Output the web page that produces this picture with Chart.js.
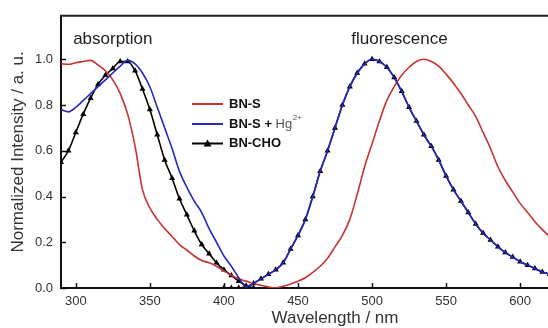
<!DOCTYPE html>
<html>
<head>
<meta charset="utf-8">
<script src="https://cdn.jsdelivr.net/npm/chart.js@4.4.1/dist/chart.umd.min.js"></script>
<style>
html, body { margin: 0; padding: 0; background: #fff; overflow: hidden; }
#grafico { display: block; }
</style>
</head>
<body>
<canvas id="grafico" width="620" height="336"></canvas>
<script>
// Absorption and fluorescence spectra (normalized)

const NM_ABS_BNS = [290, 295, 300, 305, 310, 315, 320, 325, 330, 335, 340, 345, 350, 355, 360,
    365, 370, 375, 380, 385, 390, 395, 400, 405, 410, 415, 420, 425, 430, 435];
const ABS_BNS = [0.98, 0.978, 0.985, 0.99, 0.995, 0.975, 0.95, 0.91, 0.85, 0.76, 0.62, 0.43, 0.35, 0.30, 0.26,
    0.225, 0.19, 0.165, 0.14, 0.12, 0.11, 0.095, 0.075, 0.055, 0.04, 0.03, 0.02, 0.012, 0.005, 0.0];

const NM_FL_BNS = [440, 445, 450, 455, 460, 465, 470, 475, 480, 485, 490, 495, 500, 505, 510,
    515, 520, 525, 530, 535, 540, 545, 550, 555, 560, 565, 570, 575, 580, 585,
    590, 595, 600, 605, 610, 615, 620, 625];
const FL_BNS = [0.008, 0.018, 0.03, 0.045, 0.068, 0.095, 0.13, 0.18, 0.23, 0.30, 0.41, 0.53, 0.63, 0.73, 0.82,
    0.88, 0.93, 0.965, 0.99, 1.0, 0.99, 0.97, 0.935, 0.895, 0.85, 0.80, 0.75, 0.68, 0.61, 0.53,
    0.47, 0.42, 0.37, 0.33, 0.29, 0.255, 0.225, 0.20];

const NM_ABS_HG = [290, 295, 300, 305, 310, 315, 320, 325, 330, 335, 340, 345, 350, 355, 360,
    365, 370, 375, 380, 385, 390, 395, 400, 405, 410, 415];
const ABS_HG = [0.78, 0.77, 0.79, 0.82, 0.85, 0.88, 0.91, 0.94, 0.97, 0.995, 0.98, 0.94, 0.88, 0.79, 0.70,
    0.61, 0.51, 0.44, 0.38, 0.33, 0.26, 0.20, 0.14, 0.095, 0.045, 0.005];

const NM_FL = [420, 425, 430, 435, 440, 445, 450, 455, 460, 465, 470, 475, 480, 485, 490,
    495, 500, 505, 510, 515, 520, 525, 530, 535, 540, 545, 550, 555, 560, 565,
    570, 575, 580, 585, 590, 595, 600, 605, 610, 615, 620, 625];
const FL_HG = [0.02, 0.04, 0.06, 0.08, 0.11, 0.17, 0.23, 0.30, 0.40, 0.51, 0.60, 0.70, 0.80, 0.88, 0.94,
    0.98, 1.0, 0.99, 0.965, 0.92, 0.86, 0.79, 0.73, 0.67, 0.62, 0.56, 0.49, 0.43, 0.38, 0.33,
    0.28, 0.24, 0.21, 0.18, 0.155, 0.135, 0.115, 0.10, 0.085, 0.07, 0.06, 0.05];

const NM_ABS_CHO = [290, 295, 300, 305, 310, 315, 320, 325, 330, 335, 340, 345, 350, 355, 360,
    365, 370, 375, 380, 385, 390, 395, 400, 405, 410, 415, 420];
const ABS_CHO = [0.55, 0.60, 0.68, 0.76, 0.83, 0.89, 0.93, 0.96, 0.99, 0.99, 0.95, 0.87, 0.78, 0.67, 0.56,
    0.48, 0.39, 0.32, 0.25, 0.19, 0.15, 0.11, 0.08, 0.055, 0.03, 0.01, 0.0];

const NM_FL_CHO = [400, 405, 410, 415].concat(NM_FL);
const FL_CHO = [0.0, 0.0, 0.0, 0.005, 0.02, 0.04, 0.06, 0.08, 0.11, 0.17, 0.23, 0.30, 0.40, 0.51, 0.60, 0.70, 0.80, 0.88, 0.94,
    0.98, 1.0, 0.99, 0.965, 0.92, 0.86, 0.79, 0.73, 0.67, 0.62, 0.56, 0.49, 0.43, 0.38, 0.33,
    0.28, 0.24, 0.21, 0.18, 0.155, 0.135, 0.115, 0.10, 0.085, 0.07, 0.06, 0.05];

const SERIES = ['BN-S', 'BN-S + Hg', 'BN-CHO'];
const ROTULOS = [
    { texto: 'absorption', nm: 325, valor: 1.087 },
    { texto: 'fluorescence', nm: 518.5, valor: 1.087 }
];

const VERMELHO = '#c83232';
const AZUL = '#2828c0';
const PRETO = '#000000';
const FONTE = '"Liberation Sans", Arial, sans-serif';

function pontos(xs, ys) {
    return xs.map((v, i) => ({ x: v, y: ys[i] }));
}

const extras = {
    id: 'extras',
    afterDraw(chart) {
        const { ctx, chartArea: a, scales: { x, y } } = chart;
        ctx.save();

        // moldura de cima
        ctx.strokeStyle = '#222';
        ctx.lineWidth = 2;
        ctx.beginPath();
        ctx.moveTo(a.left - 1, a.top);
        ctx.lineTo(a.right, a.top);
        ctx.stroke();

        // ticks para dentro
        ctx.strokeStyle = '#111';
        ctx.lineWidth = 1.5;
        x.ticks.forEach((t) => {
            const px = Math.round(x.getPixelForValue(t.value)) + 0.5;
            ctx.beginPath();
            ctx.moveTo(px, a.bottom);
            ctx.lineTo(px, a.bottom - 5);
            ctx.stroke();
        });
        y.ticks.forEach((t) => {
            const py = Math.round(y.getPixelForValue(t.value)) + 0.5;
            ctx.beginPath();
            ctx.moveTo(a.left, py);
            ctx.lineTo(a.left + 5, py);
            ctx.stroke();
        });

        // rótulos absorption / fluorescence
        ctx.font = '17px ' + FONTE;
        ctx.fillStyle = '#222';
        ctx.textAlign = 'center';
        ctx.textBaseline = 'middle';
        ROTULOS.forEach((r) => ctx.fillText(r.texto, x.getPixelForValue(r.nm), y.getPixelForValue(r.valor)));

        // legenda
        const cores = [VERMELHO, AZUL, PRETO];
        const linhas = [104, 124, 143.5];
        ctx.textAlign = 'left';
        linhas.forEach((ly, i) => {
            ctx.strokeStyle = cores[i];
            ctx.lineWidth = 2;
            ctx.beginPath();
            ctx.moveTo(192, ly);
            ctx.lineTo(223, ly);
            ctx.stroke();
            ctx.font = 'bold 13px ' + FONTE;
            ctx.fillStyle = '#111';
            if (i === 1) {
                const base = 'BN-S + ';
                ctx.fillText(base, 229, ly);
                let px = 229 + ctx.measureText(base).width;
                ctx.font = '13px ' + FONTE;
                ctx.fillStyle = '#555';
                ctx.fillText('Hg', px, ly);
                px += ctx.measureText('Hg').width + 0.5;
                ctx.font = '8px ' + FONTE;
                ctx.fillText('2+', px, ly - 6);
            } else {
                ctx.fillText(SERIES[i], 229, ly);
            }
        });
        // triângulo do BN-CHO na legenda
        ctx.fillStyle = PRETO;
        ctx.beginPath();
        ctx.moveTo(207.5, 139.5);
        ctx.lineTo(211.5, 146.5);
        ctx.lineTo(203.5, 146.5);
        ctx.closePath();
        ctx.fill();

        ctx.restore();
    }
};

const linhaBase = {
    borderWidth: 1.6,
    cubicInterpolationMode: 'monotone'
};

new Chart(document.getElementById('grafico'), {
    type: 'line',
    data: {
        datasets: [
            {
                ...linhaBase,
                label: SERIES[1],
                data: pontos(NM_ABS_HG.concat(NM_FL), ABS_HG.concat(FL_HG)),
                borderColor: AZUL,
                pointRadius: 0
            },
            {
                ...linhaBase,
                label: SERIES[0],
                data: pontos(NM_ABS_BNS.concat(NM_FL_BNS), ABS_BNS.concat(FL_BNS)),
                borderColor: VERMELHO,
                pointRadius: 0
            },
            {
                ...linhaBase,
                label: SERIES[2],
                data: pontos(NM_ABS_CHO, ABS_CHO),
                borderColor: PRETO,
                backgroundColor: PRETO,
                pointStyle: 'triangle',
                pointRadius: 3.5,
                pointBorderWidth: 0
            },
            {
                ...linhaBase,
                label: SERIES[2] + ' fl',
                data: pontos(NM_FL_CHO, FL_CHO),
                borderColor: PRETO,
                backgroundColor: PRETO,
                pointStyle: 'triangle',
                pointRadius: 3.5,
                pointBorderWidth: 0
            }
        ]
    },
    options: {
        responsive: false,
        animation: false,
        devicePixelRatio: 1,
        layout: { padding: { top: 15, right: 11, left: 0, bottom: 0 } },
        plugins: {
            legend: { display: false },
            tooltip: { enabled: false }
        },
        scales: {
            x: {
                type: 'linear',
                min: 290,
                max: 660,
                afterFit: (s) => { s.height = 48; },
                ticks: {
                    stepSize: 50,
                    includeBounds: false,
                    padding: 6,
                    color: '#333',
                    font: { size: 13, family: FONTE },
                    maxRotation: 0
                },
                grid: { display: false, drawTicks: false },
                border: { display: true, color: '#111', width: 2 },
                title: {
                    display: true,
                    text: 'Wavelength / nm',
                    color: '#333',
                    font: { size: 17, family: FONTE },
                    padding: { top: 0, bottom: 7 }
                }
            },
            y: {
                min: 0,
                max: 1.19,
                afterFit: (s) => { s.width = 61; },
                ticks: {
                    stepSize: 0.2,
                    includeBounds: false,
                    padding: 8,
                    color: '#333',
                    font: { size: 13, family: FONTE },
                    callback: (v) => v.toFixed(1)
                },
                grid: { display: false, drawTicks: false },
                border: { display: true, color: '#111', width: 2 },
                title: {
                    display: true,
                    text: 'Normalized Intensity / a. u.',
                    color: '#333',
                    font: { size: 17, family: FONTE },
                    padding: { top: 8, bottom: 0 }
                }
            }
        }
    },
    plugins: [extras]
});
</script>
</body>
</html>
